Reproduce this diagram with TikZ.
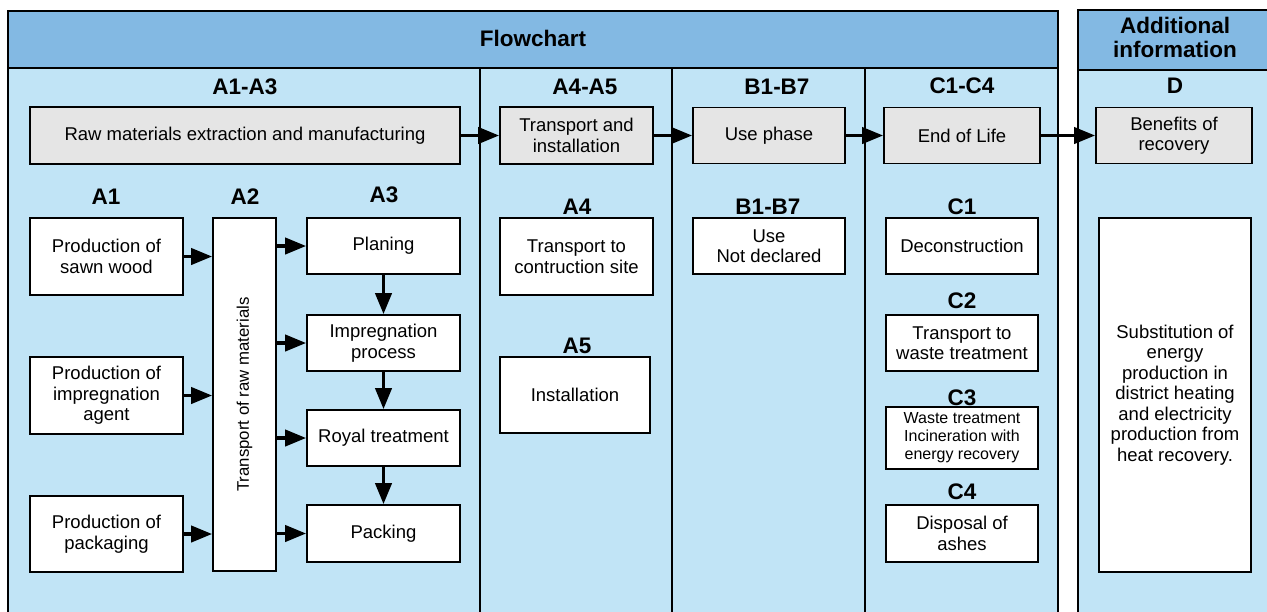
\documentclass[tikz,border=0pt]{standalone}
\usepackage{fontspec}
\setmainfont{Liberation Sans}
\usetikzlibrary{arrows.meta}
\definecolor{headblue}{RGB}{131,185,227}
\definecolor{paleblue}{RGB}{193,228,246}
\definecolor{boxgray}{RGB}{229,229,229}

\begin{document}
\begin{tikzpicture}[x=1pt,y=-1pt,
  box/.style={draw,line width=1.6pt,fill=white,align=center,inner sep=2pt,
    font=\fontsize{18.5}{20.5}\selectfont},
  graybox/.style={box,fill=boxgray},
  sz/.style 2 args={minimum width=#1pt,minimum height=#2pt},
  phase/.style={font=\bfseries\fontsize{22.5}{25}\selectfont,align=center},
  flow/.style={->,line width=3.8pt},
  >={Triangle[length=21pt,width=16pt]}]
\useasboundingbox (0,0) rectangle (1267,611);
\clip (0,0) rectangle (1267,611);
% frames
\draw[line width=1.6pt,fill=paleblue] (8,11) rectangle (1058,680);
\draw[line width=1.6pt,fill=headblue] (8,11) rectangle (1058,68);
\draw[line width=1.6pt,fill=paleblue] (1078,10) rectangle (1300,680);
\draw[line width=1.6pt,fill=headblue] (1078,10) rectangle (1300,70);
\foreach \x in {480,672,865} \draw[line width=1.6pt] (\x,68) -- (\x,680);

\node[phase] (flowchart) at (533,38) {Flowchart};
\node[phase] (addinfo) at (1175,37) {Additional\\[-1pt]information};
\node[phase] (hA13) at (245,87) {A1-A3};
\node[phase] (hA45) at (585,87) {A4-A5};
\node[phase] (hB17) at (777,87) {B1-B7};
\node[phase] (hC14) at (962,86) {C1-C4};
\node[phase] (hD) at (1175,86) {D};

% top row
\node[graybox,sz={430}{57}] (raw) at (245,135.5) {Raw materials extraction and manufacturing};
\node[graybox,sz={153}{57}] (trans) at (576.5,135.5) {Transport and\\installation};
\node[graybox,sz={152}{56}] (use) at (769,135.5) {Use phase};
\node[graybox,sz={156}{56}] (eol) at (962,135.5) {End of Life};
\node[graybox,sz={156}{56}] (benefit) at (1174,135.5) {Benefits of\\recovery};
\draw[flow] (raw.east) -- (trans.west);
\draw[flow] (trans.east) -- (use.west);
\draw[flow] (use.east) -- (eol.west);
\draw[flow] (eol.east) -- (benefit.west);

% A1-A3
\node[phase] (hA1) at (106,197) {A1};
\node[phase] (hA2) at (245,197) {A2};
\node[phase] (hA3) at (384,195) {A3};
\node[box,sz={153}{77}] (sawn) at (106.5,256.5) {Production of\\sawn wood};
\node[box,sz={153}{77}] (agent) at (106.5,395.5) {Production of\\impregnation\\agent};
\node[box,sz={153}{76}] (packaging) at (106.5,534) {Production of\\packaging};
\node[box,sz={63}{353},label={[rotate=90,font=\fontsize{16.8}{18}\selectfont]center:Transport of raw materials}] (rawtrans) at (244.5,394.5) {};
\node[box,sz={153}{56}] (planing) at (383.5,246) {Planing};
\node[box,sz={153}{56}] (impreg) at (383.5,343) {Impregnation\\process};
\node[box,sz={153}{56}] (royal) at (383.5,438) {Royal treatment};
\node[box,sz={153}{57}] (packing) at (383.5,533.5) {Packing};
\foreach \n in {sawn,agent,packaging}
  \draw[flow] (\n.east) -- (\n.east -| rawtrans.west);
\foreach \n in {planing,impreg,royal,packing}
  \draw[flow] (\n.west -| rawtrans.east) -- (\n.west);
\draw[flow] (planing) -- (impreg);
\draw[flow] (impreg) -- (royal);
\draw[flow] (royal) -- (packing);

% A4-A5
\node[phase] (hA4) at (577,207) {A4};
\node[phase] (hA5) at (577,346) {A5};
\node[box,sz={153}{77}] (site) at (576.5,256.5) {Transport to\\contruction site};
\node[box,sz={150}{76}] (install) at (575,395) {Installation};

% B1-B7
\node[phase] (hB) at (768,207) {B1-B7};
\node[box,sz={152}{56}] (notdecl) at (769,246) {Use\\Not declared};

% C1-C4
\node[phase] (hC1) at (962,207) {C1};
\node[phase] (hC2) at (962,301) {C2};
\node[phase] (hC3) at (962,398) {C3};
\node[phase] (hC4) at (962,492) {C4};
\node[box,sz={152}{56}] (decon) at (962,246) {Deconstruction};
\node[box,sz={152}{56}] (waste) at (962,343) {Transport to\\waste treatment};
\node[box,sz={152}{62},font=\fontsize{16}{18}\selectfont] (incin) at (962,438) {Waste treatment\\Incineration with\\energy recovery};
\node[box,sz={152}{57}] (ashes) at (962,533.5) {Disposal of\\ashes};

% D
\node[box,sz={152}{354}] (subst) at (1175,395) {Substitution of\\energy\\production in\\district heating\\and electricity\\production from\\heat recovery.};
\end{tikzpicture}
\end{document}
